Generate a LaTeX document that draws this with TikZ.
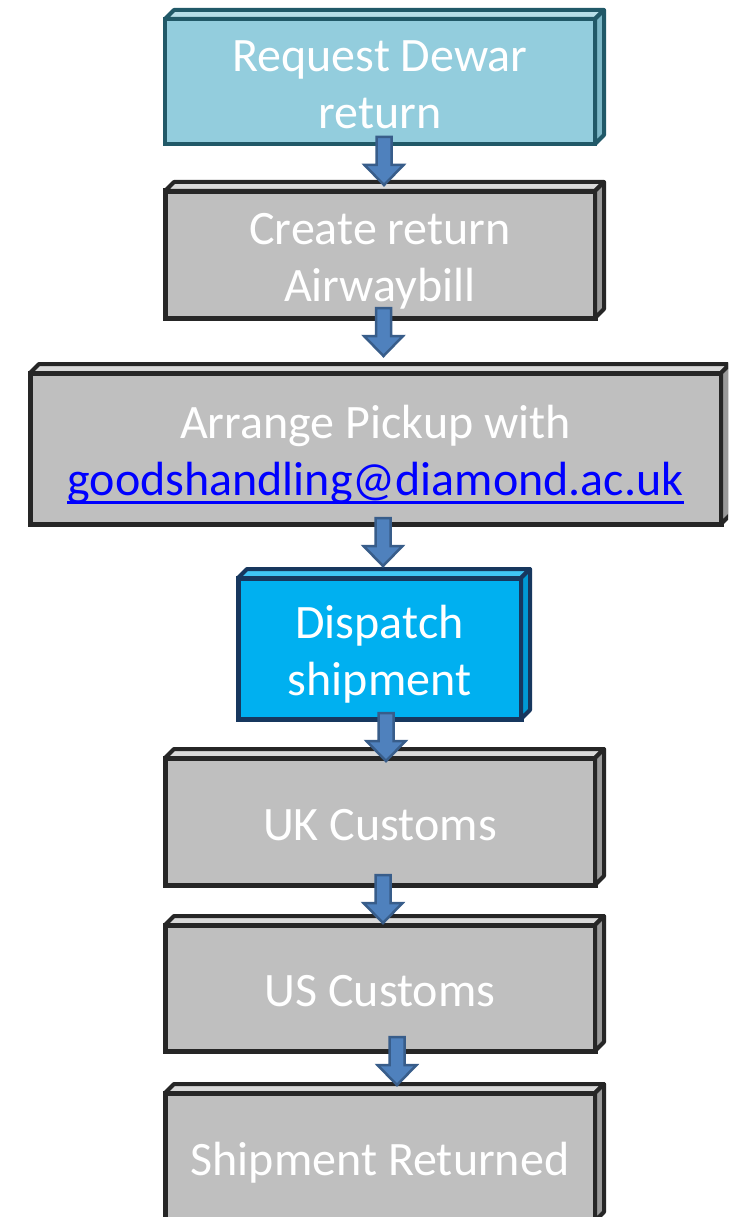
\documentclass[tikz,border=0pt]{standalone}
\usepackage{fontspec}
\setmainfont{Carlito}
\usetikzlibrary{calc}
\definecolor{grayfront}{HTML}{BFBFBF}
\definecolor{grayline}{HTML}{262626}
\definecolor{graytop}{HTML}{D9D9D9}
\definecolor{grayside}{HTML}{9A9A9A}
\definecolor{lbfront}{HTML}{93CDDD}
\definecolor{lbline}{HTML}{215968}
\definecolor{lbtop}{HTML}{B7DEE8}
\definecolor{lbside}{HTML}{7DB8C8}
\definecolor{cyfront}{HTML}{00B0F0}
\definecolor{cyline}{HTML}{17375E}
\definecolor{cytop}{HTML}{40C4F4}
\definecolor{cyside}{HTML}{0099D4}
\definecolor{arrfill}{HTML}{4F81BD}
\definecolor{arrline}{HTML}{385D8A}
\definecolor{linkblue}{HTML}{0000FF}
\newcommand\ulink[1]{\setbox0=\hbox{#1}\makebox[0pt][l]{\rule[-8pt]{\wd0}{2.5pt}}\box0}
\newcommand\linestrut{\vrule width 0pt height 50pt depth 13pt\relax}
\newcommand\boxfont{\fontsize{48}{57}\selectfont\lineskiplimit=-100pt\relax}
\tikzset{
  x=1pt, y=1pt,
  boxbase/.style={draw, line width=5pt, anchor=north west, inner sep=0pt, outer sep=0pt,
    text=white, align=center, font=\boxfont, line join=miter},
  graybox/.style={boxbase, fill=grayfront, draw=grayline},
  lbbox/.style={boxbase, fill=lbfront, draw=lbline, line width=4pt},
  cybox/.style={boxbase, fill=cyfront, draw=cyline},
  face/.style={line width=4pt, line join=round},
  barrow/.style={fill=arrfill, draw=arrline, line width=2.5pt, line join=miter}
}
% #1 node, #2 top colour, #3 side colour, #4 line colour
\newcommand\bevel[4]{%
  \draw[face, draw=#4, fill=#2] (#1.north west) -- ++(9,9) -- ($(#1.north east)+(9,9)$) -- (#1.north east) -- cycle;
  \draw[face, draw=#4, fill=#3] (#1.north east) -- ++(9,9) -- ($(#1.south east)+(9,9)$) -- (#1.south east) -- cycle;
}
% #1 from node, #2 x shift from node centre, #3 inset, #4 to node
\newcommand\blkarrow[4]{%
  \draw[barrow] let \p1=(#1.south), \p2=(#4.north) in
    (\x1+#2-7.5,\y1+#3) -- (\x1+#2+7.5,\y1+#3) -- (\x1+#2+7.5,\y1+#3-28) -- (\x1+#2+19.5,\y1+#3-28)
    -- (\x1+#2,\y1+#3-48) -- (\x1+#2-19.5,\y1+#3-28) -- (\x1+#2-7.5,\y1+#3-28) -- cycle;
}
\begin{document}
\begin{tikzpicture}
\useasboundingbox (0,0) rectangle (728,-1217);
\clip (0,0) rectangle (728,-1217);
\fill[white] (0,0) rectangle (728,-1217);

\node[lbbox, minimum width=430, minimum height=125] (b1) at (165,-19) {\linestrut Request Dewar\\\linestrut return};
\bevel{b1}{lbtop}{lbside}{lbline}
\node[graybox, minimum width=430, minimum height=127] (b2) at (165,-191) {\linestrut Create return\\\linestrut Airwaybill};
\bevel{b2}{graytop}{grayside}{grayline}
\node[graybox, minimum width=691, minimum height=151] (b3) at (30,-373) {\linestrut Arrange Pickup with\\\linestrut{\color{linkblue}\ulink{goodshandling@diamond.ac.uk}}};
\bevel{b3}{graytop}{grayside}{grayline}
\node[cybox, minimum width=283, minimum height=141] (b4) at (238,-578) {\linestrut Dispatch\\\linestrut shipment};
\bevel{b4}{cytop}{cyside}{cyline}
\node[graybox, minimum width=430, minimum height=127] (b5) at (165,-758) {\linestrut UK Customs};
\bevel{b5}{graytop}{grayside}{grayline}
\node[graybox, minimum width=430, minimum height=126] (b6) at (165,-925) {\linestrut US Customs};
\bevel{b6}{graytop}{grayside}{grayline}
\node[graybox, minimum width=430, minimum height=128] (b7) at (165,-1093) {\linestrut Shipment Returned};
\bevel{b7}{graytop}{grayside}{grayline}

\blkarrow{b1}{4}{7}{b2}
\blkarrow{b2}{3.5}{10}{b3}
\blkarrow{b3}{7.5}{6}{b4}
\blkarrow{b4}{6.5}{6}{b5}
\blkarrow{b5}{3}{10}{b6}
\blkarrow{b6}{17}{14}{b7}
\end{tikzpicture}
\end{document}
